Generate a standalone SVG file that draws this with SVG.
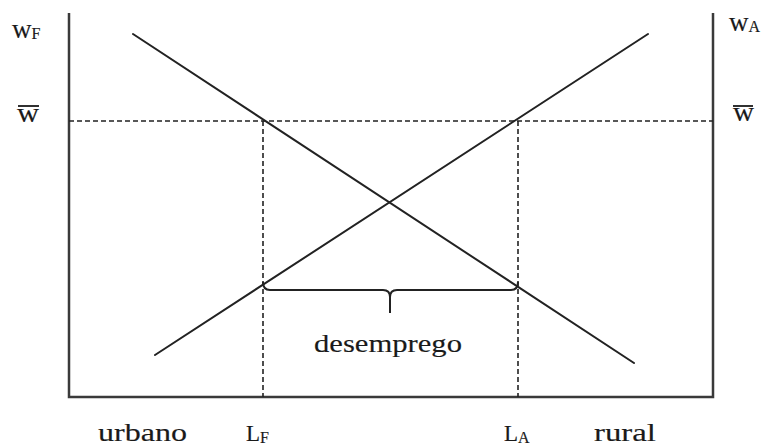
<svg xmlns="http://www.w3.org/2000/svg" width="764" height="445" viewBox="0 0 764 445">
<style>
.axis{stroke:#3a3a3a;stroke-width:2.5;fill:none}
.curve{stroke:#222;stroke-width:2;fill:none;stroke-linecap:round}
.dash{stroke:#222;stroke-width:1.6;fill:none;stroke-dasharray:5 3}
.brace{stroke:#222;stroke-width:2;fill:none}
text{font-family:"Liberation Serif","Times New Roman",serif;fill:#1a1a1a;stroke:#1a1a1a;stroke-width:0.15}
.lbl{font-size:25px}
.w{font-size:27px}
.sub{font-size:16px}
.bar{stroke:#1a1a1a;stroke-width:1.8}
</style>
<rect width="764" height="445" fill="#fff"/>
<g id="axes">
  <path class="axis" d="M69,13 V397 H713 V13"/>
</g>
<g id="connectors">
  <line class="dash" x1="69" y1="121" x2="713" y2="121"/>
  <line class="dash" x1="263" y1="121" x2="263" y2="397"/>
  <line class="dash" x1="518" y1="121" x2="518" y2="397"/>
  <line class="curve" x1="133" y1="34" x2="634" y2="363"/>
  <line class="curve" x1="155" y1="355" x2="648" y2="34"/>
</g>
<g id="brace">
  <path class="brace" d="M263,282 Q263,290 270,290 L383,290 Q390,290 390,297 L390,313 M390,297 Q390,290 397,290 L511,290 Q518,290 518,282"/>
</g>
<g id="label-wF">
  <text class="w" x="12" y="38">w<tspan class="sub" dy="1">F</tspan></text>
</g>
<g id="label-wbar-left">
  <text class="w" x="17" y="122" textLength="22" lengthAdjust="spacingAndGlyphs">w</text>
  <line class="bar" x1="18" y1="106" x2="39" y2="106"/>
</g>
<g id="label-wA">
  <text class="w" x="729" y="31">w<tspan class="sub" dy="1">A</tspan></text>
</g>
<g id="label-wbar-right">
  <text class="w" x="733" y="121" textLength="21" lengthAdjust="spacingAndGlyphs">w</text>
  <line class="bar" x1="733" y1="106" x2="753" y2="106"/>
</g>
<g id="label-desemprego">
  <text x="314" y="352" font-size="26" textLength="148" lengthAdjust="spacingAndGlyphs">desemprego</text>
</g>
<g id="label-urbano">
  <text class="lbl" x="98" y="441" textLength="89" lengthAdjust="spacingAndGlyphs">urbano</text>
</g>
<g id="label-LF">
  <text x="246" y="441" font-size="23">L<tspan class="sub" dy="2">F</tspan></text>
</g>
<g id="label-LA">
  <text x="504" y="441" font-size="23">L<tspan class="sub" dy="2">A</tspan></text>
</g>
<g id="label-rural">
  <text class="lbl" x="594" y="441" textLength="62" lengthAdjust="spacingAndGlyphs">rural</text>
</g>
</svg>
